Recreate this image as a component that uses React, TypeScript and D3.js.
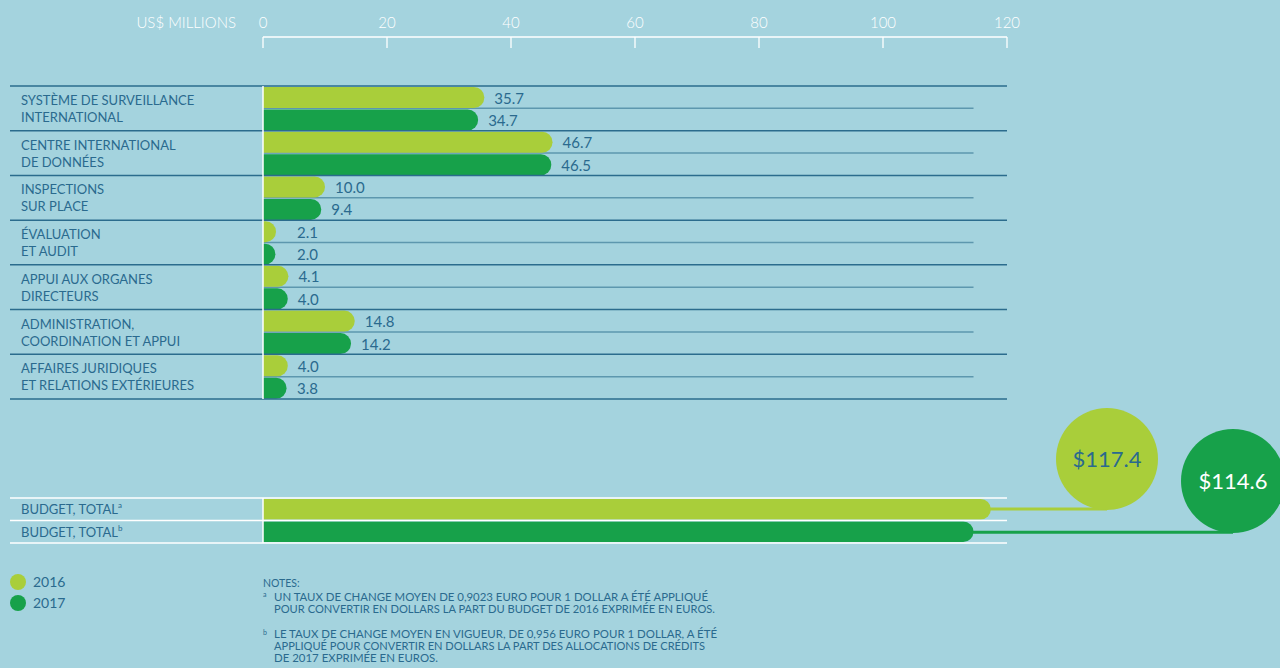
import React from "react";
import * as d3 from "d3";

const categories: string[][] = [
  ["SYSTÈME DE SURVEILLANCE", "INTERNATIONAL"],
  ["CENTRE INTERNATIONAL", "DE DONNÉES"],
  ["INSPECTIONS", "SUR PLACE"],
  ["ÉVALUATION", "ET AUDIT"],
  ["APPUI AUX ORGANES", "DIRECTEURS"],
  ["ADMINISTRATION,", "COORDINATION ET APPUI"],
  ["AFFAIRES JURIDIQUES", "ET RELATIONS EXTÉRIEURES"],
];
const values2016: number[] = [35.7, 46.7, 10.0, 2.1, 4.1, 14.8, 4.0];
const values2017: number[] = [34.7, 46.5, 9.4, 2.0, 4.0, 14.2, 3.8];
const years: string[] = ["2016", "2017"];
const totals: number[] = [117.4, 114.6];
const totalLabels: string[] = ["BUDGET, TOTAL", "BUDGET, TOTAL"];
const totalSups: string[] = ["a", "b"];
const xTicks: number[] = [0, 20, 40, 60, 80, 100, 120];
const notesA: string[] = [
  "UN TAUX DE CHANGE MOYEN DE 0,9023 EURO POUR 1 DOLLAR A ÉTÉ APPLIQUÉ",
  "POUR CONVERTIR EN DOLLARS LA PART DU BUDGET DE 2016 EXPRIMÉE EN EUROS.",
];
const notesB: string[] = [
  "LE TAUX DE CHANGE MOYEN EN VIGUEUR, DE 0,956 EURO POUR 1 DOLLAR, A ÉTÉ",
  "APPLIQUÉ POUR CONVERTIR EN DOLLARS LA PART DES ALLOCATIONS DE CRÉDITS",
  "DE 2017 EXPRIMÉE EN EUROS.",
];

const BG = "#a4d3de";
const LIGHT = "#a9ce3a";
const DARK = "#17a14a";
const TEXT = "#2a6a8e";
const RULE = "#2b6c8d";
const MIDRULE = "#5d97ae";
const FONT = "Lato, 'Open Sans', sans-serif";

// rectangle with flat left edge and fully rounded right end
function pillPath(x0: number, x1: number, y: number, h: number): string {
  const r = Math.min(h / 2, Math.max(0, x1 - x0));
  const xs = Math.max(x0, x1 - r);
  return `M${x0},${y}H${xs}A${r},${h / 2} 0 0 1 ${xs},${y + h}H${x0}Z`;
}

export default function App() {
  const W = 1280;
  const H = 668;
  const x = d3.scaleLinear().domain([0, 120]).range([263, 1007]);
  const groups = d3
    .scaleBand<number>()
    .domain(d3.range(categories.length))
    .range([86, 399])
    .paddingInner(0);
  const step = groups.step();
  const barH = 21;
  const yearColors = [LIGHT, DARK];
  const series = [values2016, values2017];
  const midRuleEnd = x(114.6);

  const totalY = d3.scaleBand<number>().domain([0, 1]).range([498, 543]);
  const bubbles = [
    { cx: 1107, cy: 459, r: 51, fill: LIGHT, text: TEXT },
    { cx: 1233, cy: 481, r: 52, fill: DARK, text: "#ffffff" },
  ];

  return (
    <svg
      width={W}
      height={H}
      style={{ position: "absolute", left: 0, top: 0, background: BG }}
      fontFamily={FONT}
    >
      <rect width={W} height={H} fill={BG} />

      {/* axis */}
      <text x={236} y={28} fill="#ffffff" fontSize={15} fontWeight={300} textAnchor="end">
        US$ MILLIONS
      </text>
      {xTicks.map((t) => (
        <g key={t}>
          <text x={x(t)} y={28} fill="#ffffff" fontSize={15} fontWeight={300} textAnchor="middle">
            {t}
          </text>
          <line x1={x(t)} x2={x(t)} y1={37} y2={48} stroke="#ffffff" strokeWidth={1.3} />
        </g>
      ))}
      <line x1={x(0)} x2={x(120)} y1={37} y2={37} stroke="#ffffff" strokeWidth={1.5} />

      {/* category groups */}
      {categories.map((lines, i) => {
        const top = groups(i)!;
        return (
          <g key={i}>
            <line x1={x(0)} x2={midRuleEnd} y1={top + step / 2} y2={top + step / 2} stroke={MIDRULE} strokeWidth={1.5} />
            {series.map((vals, s) => {
              const y = top + 1 + s * (barH + 1.5);
              const end = x(vals[i]);
              return (
                <g key={s}>
                  <path d={pillPath(x(0), end, y, barH)} fill={yearColors[s]} />
                  <text
                    x={Math.max(end + 10, 297)}
                    y={y + barH / 2 + 6}
                    fill={TEXT}
                    fontSize={15}
                  >
                    {vals[i].toFixed(1)}
                  </text>
                </g>
              );
            })}
            {lines.map((ln, k) => (
              <text key={k} x={21} y={top + 19 + k * 17} fill={TEXT} fontSize={13}>
                {ln}
              </text>
            ))}
          </g>
        );
      })}
      {d3.range(categories.length + 1).map((k) => {
        const y = 86 + k * step;
        return <line key={k} x1={10} x2={1007} y1={y} y2={y} stroke={RULE} strokeWidth={1.5} />;
      })}
      <line x1={x(0)} x2={x(0)} y1={86} y2={399} stroke="#ffffff" strokeWidth={1.5} />

      {/* totals */}
      {totals.map((v, i) => {
        const y = totalY(i)!;
        const h = totalY.bandwidth();
        const b = bubbles[i];
        const ly = i === 0 ? b.cy + b.r - 1 : y + h / 2 + 0.5;
        return (
          <g key={i}>
            <path d={pillPath(x(0), x(v), y + 1, h - 2)} fill={yearColors[i]} />
            <line x1={x(v) - 2} x2={b.cx} y1={ly} y2={ly} stroke={b.fill} strokeWidth={3} />
            <circle cx={b.cx} cy={b.cy} r={b.r} fill={b.fill} />
            <text x={b.cx} y={b.cy + 8} fill={b.text} fontSize={22} textAnchor="middle">
              ${v.toFixed(1)}
            </text>
            <text x={21} y={y + h / 2 + 5} fill={TEXT} fontSize={13}>
              {totalLabels[i]}
              <tspan fontSize={8} dy={-6}>
                {totalSups[i]}
              </tspan>
            </text>
          </g>
        );
      })}
      {[498, 520.5, 543].map((y) => (
        <line key={y} x1={10} x2={1007} y1={y} y2={y} stroke="#ffffff" strokeWidth={1.5} />
      ))}
      <line x1={x(0)} x2={x(0)} y1={498} y2={543} stroke="#ffffff" strokeWidth={1.5} />

      {/* legend */}
      {years.map((yr, i) => (
        <g key={yr}>
          <circle cx={18} cy={582 + i * 21} r={8} fill={yearColors[i]} />
          <text x={33} y={587 + i * 21} fill={TEXT} fontSize={14}>
            {yr}
          </text>
        </g>
      ))}

      {/* notes */}
      <g fill={TEXT} fontSize={10.5}>
        <text x={263} y={587}>NOTES:</text>
        <text x={263} y={597} fontSize={7}>a</text>
        {notesA.map((t, k) => (
          <text key={k} x={274} y={601 + k * 12} textLength={k === 0 ? 434 : 441} lengthAdjust="spacingAndGlyphs">
            {t}
          </text>
        ))}
        <text x={263} y={635} fontSize={7}>b</text>
        {notesB.map((t, k) => (
          <text
            key={k}
            x={274}
            y={638 + k * 12}
            textLength={[443, 431, 164][k]}
            lengthAdjust="spacingAndGlyphs"
          >
            {t}
          </text>
        ))}
      </g>
    </svg>
  );
}
